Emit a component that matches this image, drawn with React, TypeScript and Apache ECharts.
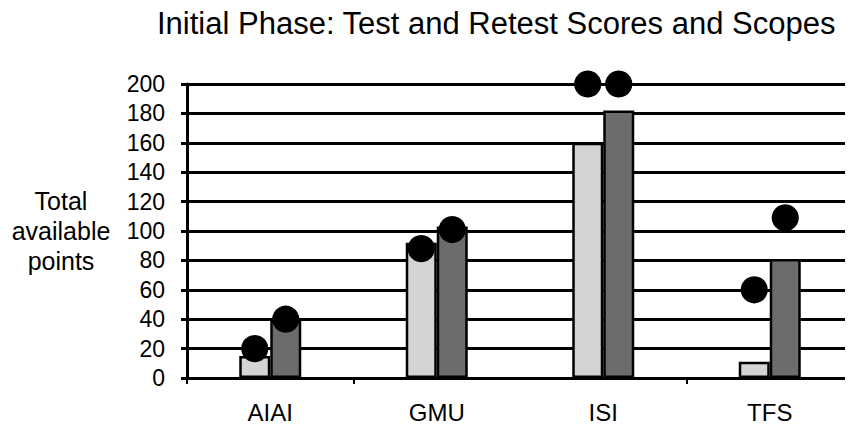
import React, { useEffect, useRef } from "react";
import * as echarts from "echarts";

const categories = ["AIAI", "GMU", "ISI", "TFS"];
const testScores = [15, 92, 160, 11];
const retestScores = [39, 103, 182, 81];
const testScopes = [20, 88, 200, 60];
const retestScopes = [40, 101, 200, 109];
const yTicks = { min: 0, max: 200, interval: 20 };

const FONT = "'Liberation Sans', Arial, sans-serif";

export default function App() {
  const ref = useRef<HTMLDivElement>(null);
  useEffect(() => {
    if (!ref.current) return;
    const chart = echarts.init(ref.current, undefined, { renderer: "svg" });
    chart.setOption({
      animation: false,
      backgroundColor: "#ffffff",
      textStyle: { fontFamily: FONT, color: "#000" },
      title: {
        text: "Initial Phase: Test and Retest Scores and Scopes",
        left: 152,
        top: 3,
        textStyle: { fontFamily: FONT, fontSize: 31, fontWeight: "normal", color: "#000" },
      },
      grid: { left: 187, right: 0, top: 84, bottom: 51, containLabel: false },
      xAxis: {
        type: "category",
        data: categories,
        boundaryGap: true,
        axisLine: { lineStyle: { color: "#000", width: 3 } },
        axisTick: {
          show: true,
          length: 6,
          lineStyle: { color: "#000", width: 2 },
          interval: (i: number) => i !== 2,
        },
        axisLabel: { color: "#000", fontSize: 24, fontFamily: FONT, margin: 22 },
        splitLine: { show: false },
      },
      yAxis: {
        type: "value",
        min: yTicks.min,
        max: yTicks.max,
        interval: yTicks.interval,
        name: "Total\navailable\npoints",
        nameLocation: "middle",
        nameRotate: 0,
        nameGap: 126,
        nameTextStyle: {
          fontSize: 25,
          fontFamily: FONT,
          color: "#000",
          align: "center",
          verticalAlign: "middle",
          lineHeight: 30,
        },
        axisLine: { show: true, lineStyle: { color: "#000", width: 3 } },
        axisTick: { show: true, length: 6, lineStyle: { color: "#000", width: 3 } },
        axisLabel: { color: "#000", fontSize: 23, fontFamily: FONT, margin: 22 },
        splitLine: { show: true, lineStyle: { color: "#000", width: 3 } },
      },
      series: [
        {
          name: "Test score",
          type: "bar",
          data: testScores,
          barWidth: 31,
          barGap: "0%",
          itemStyle: { color: "#d4d4d4", borderColor: "#000", borderWidth: 2.5 },
          z: 3,
        },
        {
          name: "Retest score",
          type: "bar",
          data: retestScores,
          barWidth: 31,
          barGap: "0%",
          itemStyle: { color: "#6c6c6c", borderColor: "#000", borderWidth: 2.5 },
          z: 3,
        },
        {
          name: "Test scope",
          type: "pictorialBar",
          data: testScopes,
          barWidth: 31,
          barGap: "0%",
          symbol: "circle",
          symbolSize: 27,
          symbolPosition: "end",
          symbolOffset: [0, "-50%"],
          itemStyle: { color: "#000" },
          z: 5,
        },
        {
          name: "Retest scope",
          type: "pictorialBar",
          data: retestScopes,
          barWidth: 31,
          barGap: "0%",
          symbol: "circle",
          symbolSize: 27,
          symbolPosition: "end",
          symbolOffset: [0, "-50%"],
          itemStyle: { color: "#000" },
          z: 5,
        },
      ],
    });
    return () => chart.dispose();
  }, []);
  return <div ref={ref} style={{ width: 853, height: 429, margin: -8 }} />;
}
